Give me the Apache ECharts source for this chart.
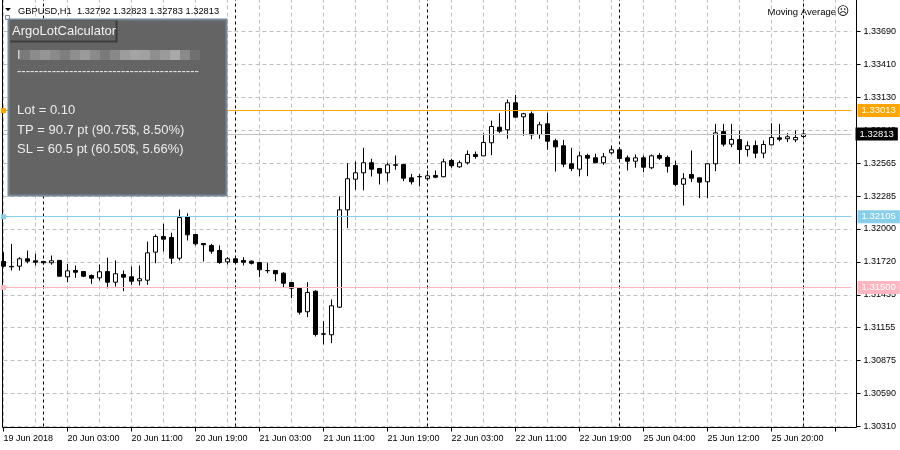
<!DOCTYPE html>
<html><head><meta charset="utf-8">
<script src="https://cdn.jsdelivr.net/npm/echarts@6/dist/echarts.min.js"></script>
<style>html,body{margin:0;padding:0;background:#fff}#c{width:900px;height:450px}</style>
</head><body><div id="c"></div>
<script>
// ---- data (GBPUSD, H1) ----
const opens = [1.31722,1.31680,1.31682,1.31745,1.31728,1.31722,1.31711,1.31731,1.31591,1.31645,
1.31636,1.31602,1.31582,1.31636,1.31545,1.31611,1.31591,1.31557,1.31562,1.31802,
1.31936,1.31927,1.31750,1.32107,1.31953,1.31876,1.31859,1.31816,1.31719,1.31745,
1.31731,1.31725,1.31713,1.31645,1.31645,1.31622,1.31542,1.31491,1.31292,1.31468,
1.31103,1.31095,1.31331,1.32164,1.32426,1.32481,1.32567,1.32518,1.32481,1.32549,
1.32552,1.32438,1.32449,1.32430,1.32458,1.32447,1.32586,1.32532,1.32567,1.32638,
1.32626,1.32738,1.32871,1.32849,1.33080,1.32960,1.32986,1.32809,1.32900,1.32755,
1.32712,1.32558,1.32512,1.32629,1.32609,1.32567,1.32652,1.32678,1.32609,1.32580,
1.32609,1.32524,1.32629,1.32612,1.32543,1.32383,1.32466,1.32438,1.32404,1.32558,
1.32834,1.32726,1.32766,1.32680,1.32714,1.32649,1.32720,1.32780,1.32772,1.32763,
1.32792];
const closes = [1.31682,1.31676,1.31745,1.31725,1.31716,1.31711,1.31728,1.31596,1.31642,1.31630,
1.31596,1.31579,1.31634,1.31545,1.31617,1.31588,1.31553,1.31574,1.31796,1.31936,
1.31913,1.31750,1.32098,1.31950,1.31873,1.31865,1.31810,1.31713,1.31745,1.31713,
1.31716,1.31707,1.31651,1.31643,1.31617,1.31536,1.31493,1.31288,1.31457,1.31097,
1.31100,1.31343,1.32164,1.32430,1.32481,1.32567,1.32512,1.32478,1.32549,1.32546,
1.32435,1.32404,1.32447,1.32455,1.32443,1.32575,1.32541,1.32567,1.32638,1.32620,
1.32740,1.32877,1.32837,1.33080,1.32957,1.32986,1.32806,1.32892,1.32751,1.32703,
1.32555,1.32518,1.32626,1.32606,1.32567,1.32618,1.32678,1.32603,1.32580,1.32609,
1.32529,1.32626,1.32606,1.32537,1.32381,1.32430,1.32435,1.32401,1.32558,1.32823,
1.32726,1.32766,1.32680,1.32712,1.32649,1.32723,1.32783,1.32768,1.32789,1.32783,
1.32813];
const lows = [1.31673,1.31645,1.31645,1.31707,1.31688,1.31696,1.31694,1.31594,1.31545,1.31582,
1.31588,1.31531,1.31559,1.31493,1.31508,1.31468,1.31523,1.31517,1.31523,1.31707,
1.31808,1.31702,1.31731,1.31902,1.31859,1.31722,1.31788,1.31702,1.31696,1.31711,
1.31688,1.31696,1.31588,1.31622,1.31553,1.31497,1.31408,1.31268,1.31245,1.31080,
1.31012,1.31023,1.31326,1.32007,1.32335,1.32330,1.32449,1.32381,1.32407,1.32507,
1.32410,1.32381,1.32364,1.32415,1.32435,1.32443,1.32524,1.32524,1.32552,1.32601,
1.32624,1.32632,1.32820,1.32772,1.32955,1.32798,1.32768,1.32772,1.32678,1.32492,
1.32529,1.32495,1.32452,1.32452,1.32563,1.32549,1.32638,1.32592,1.32501,1.32524,
1.32486,1.32512,1.32592,1.32483,1.32364,1.32201,1.32401,1.32264,1.32264,1.32495,
1.32706,1.32700,1.32558,1.32620,1.32606,1.32606,1.32718,1.32751,1.32743,1.32743,
1.32783];
const highs = [1.31802,1.31873,1.31759,1.31816,1.31788,1.31728,1.31773,1.31736,1.31702,1.31688,
1.31639,1.31611,1.31696,1.31754,1.31731,1.31645,1.31679,1.31688,1.31893,1.31953,
1.32045,1.31968,1.32167,1.32133,1.31959,1.31878,1.31873,1.31859,1.31759,1.31750,
1.31759,1.31731,1.31719,1.31713,1.31647,1.31630,1.31542,1.31499,1.31545,1.31474,
1.31211,1.31397,1.32278,1.32563,1.32578,1.32695,1.32601,1.32521,1.32567,1.32629,
1.32555,1.32472,1.32472,1.32501,1.32501,1.32601,1.32601,1.32586,1.32672,1.32663,
1.32820,1.32928,1.32991,1.33108,1.33148,1.32994,1.33005,1.32917,1.32994,1.32772,
1.32763,1.32695,1.32663,1.32644,1.32644,1.32649,1.32714,1.32700,1.32629,1.32638,
1.32629,1.32638,1.32649,1.32629,1.32584,1.32478,1.32672,1.32440,1.32563,1.32900,
1.32900,1.32900,1.32843,1.32749,1.32757,1.32757,1.32905,1.32900,1.32820,1.32843,
1.32823];
const timeLabels = ['19 Jun 2018','20 Jun 03:00','20 Jun 11:00','20 Jun 19:00','21 Jun 03:00','21 Jun 11:00',
  '21 Jun 19:00','22 Jun 03:00','22 Jun 11:00','22 Jun 19:00','25 Jun 04:00','25 Jun 12:00','25 Jun 20:00'];
const priceLabels = ['1.30310','1.30590','1.30875','1.31155','1.31435','1.31720','1.32000',
  '1.32285','1.32565','1.32845','1.33130','1.33410','1.33690'];
const daySeparators = [5, 29, 53, 77, 100];
const levelPrices = [1.33013, 1.32105, 1.31500];
const bidPrice = 1.32813;
const panelLines = ['Lot = 0.10', 'TP = 90.7 pt (90.75$, 8.50%)', 'SL = 60.5 pt (60.50$, 5.66%)'];

// ---- styles ----
const FONT = 'Liberation Sans';
const levelColors = ['#FFA500', '#87CEEB', '#FFB6C1'];
const yMin = 1.3031, yStep = 0.00281667;
const nCats = 107;
const cats = Array.from({length: nCats}, (_, i) => String(i));
const candles = opens.map((o, i) => [o, closes[i], lows[i], highs[i]]);
const last = opens.length - 1;

const markData = [];
daySeparators.forEach(i => markData.push({xAxis: i, symbol: 'none',
  lineStyle: {color: '#000', type: [3, 3], width: 1}, label: {show: false}}));
levelPrices.forEach((p, k) => markData.push({yAxis: p, symbol: ['emptyRect', 'emptyRect'], symbolSize: 5,
  lineStyle: {color: levelColors[k], type: 'solid', width: 1},
  label: {show: true, position: 'end', distance: 6, formatter: () => p.toFixed(5), color: '#fff',
    backgroundColor: levelColors[k], padding: [2, 4, 1, 4], fontSize: 9.5, fontFamily: FONT}}));
markData.push({yAxis: bidPrice, symbol: 'none', lineStyle: {color: '#C0C0C0', type: 'solid', width: 1},
  label: {show: true, position: 'end', distance: 4, formatter: () => bidPrice.toFixed(5), color: '#fff',
    backgroundColor: '#000', padding: [2, 4, 1, 4], fontSize: 9.5, fontFamily: FONT}});

const greys = ['#7a7a7a','#8c8c8c','#959595','#8a8a8a','#7e7e7e','#8f8f8f','#9a9a9a','#8a8a8a','#7a7a7a',
  '#888888','#9c9c9c','#a4a4a4','#a0a0a0','#8e8e8e','#9a9a9a','#a8a8a8','#8a8a8a','#707070'];
const graphics = [
  {type: 'polygon', shape: {points: [[5, 8], [11, 8], [8, 11]]}, style: {fill: '#000'}, z: 100},
  {type: 'text', x: 18, y: 11, style: {text: 'GBPUSD,H1  ' + [opens[last], highs[last], lows[last], closes[last]].map(v => v.toFixed(5)).join(' '),
    fill: '#000', font: '9.3px ' + FONT, verticalAlign: 'middle'}, z: 100},
  {type: 'text', x: 836, y: 12, style: {text: 'Moving Average', fill: '#000', font: '9.5px ' + FONT, align: 'right', verticalAlign: 'middle'}, z: 100},
  {type: 'text', x: 843, y: 12, style: {text: '\u2639', fill: '#000', font: '12px DejaVu Sans', align: 'center', verticalAlign: 'middle'}, z: 100},
  {type: 'rect', shape: {x: 5.5, y: 15.5, width: 4, height: 4}, style: {fill: '#fff', stroke: '#778899', lineWidth: 1}, z: 100},
  {type: 'rect', shape: {x: 8.5, y: 19.5, width: 218, height: 176}, style: {fill: '#646464', stroke: '#778899', lineWidth: 2}, z: 100},
  {type: 'rect', shape: {x: 10, y: 20.5, width: 107.5, height: 22}, style: {fill: '#3c3c3c'}, z: 101},
  {type: 'rect', shape: {x: 10, y: 20.5, width: 105.5, height: 20}, style: {fill: '#626262'}, z: 102},
  {type: 'text', x: 12, y: 31, style: {text: 'ArgoLotCalculator', fill: '#f2f2f2', font: '13px ' + FONT, verticalAlign: 'middle'}, z: 103},
  {type: 'text', x: 17, y: 55, style: {text: 'I', fill: '#e8e8e8', font: '13px ' + FONT, verticalAlign: 'middle'}, z: 103},
  {type: 'text', x: 17, y: 71, style: {text: '-'.repeat(42), fill: '#e8e8e8', font: '13px ' + FONT, verticalAlign: 'middle'}, z: 103}
];
greys.forEach((c, i) => graphics.push({type: 'rect', shape: {x: 20 + i * 10, y: 50, width: 10, height: 10}, style: {fill: c}, z: 103}));
panelLines.forEach((t, i) => graphics.push({type: 'text', x: 17, y: [110, 130, 149][i],
  style: {text: t, fill: '#ececec', font: '13px ' + FONT, verticalAlign: 'middle'}, z: 103}));

const chart = echarts.init(document.getElementById('c'), null, {renderer: 'canvas'});
chart.setOption({
  animation: false,
  backgroundColor: '#fff',
  grid: [
    {left: 3.5, width: 848, top: -1.417, bottom: 23.5, outerBoundsMode: 'none'},
    {left: 2.5, width: 854, top: -10, bottom: 22.5, show: true, borderColor: '#000', borderWidth: 1,
      backgroundColor: 'rgba(0,0,0,0)', outerBoundsMode: 'none'}
  ],
  xAxis: [
    {type: 'category', gridIndex: 0, data: cats, boundaryGap: false, offset: 1,
      axisLine: {show: false},
      axisTick: {show: true, interval: 7, length: 4, lineStyle: {color: '#000', width: 1}},
      axisLabel: {interval: 7, align: 'left', margin: 7, color: '#000', fontSize: 9, fontFamily: FONT,
        formatter: (v, i) => timeLabels[i / 8] || ''},
      splitLine: {show: true, interval: 3, lineStyle: {color: '#C0C0C0', type: [4, 3], width: 1}}},
    {type: 'value', gridIndex: 1, show: false}
  ],
  yAxis: [
    {type: 'value', gridIndex: 0, position: 'right', offset: 5, min: yMin, max: yMin + 13 * yStep, interval: yStep,
      axisLine: {show: false},
      axisTick: {show: true, length: 4, lineStyle: {color: '#000', width: 1}},
      axisLabel: {margin: 7, color: '#000', fontSize: 9, fontFamily: FONT, showMinLabel: true, showMaxLabel: true,
        formatter: v => priceLabels[Math.round((v - yMin) / yStep)] || ''},
      splitLine: {show: true, lineStyle: {color: '#C0C0C0', type: [4, 3], width: 1}}},
    {type: 'value', gridIndex: 1, show: false}
  ],
  series: [{
    type: 'candlestick', xAxisIndex: 0, yAxisIndex: 0, data: candles, barWidth: 4, clip: false,
    emphasis: {disabled: true},
    itemStyle: {color: '#fff', color0: '#000', borderColor: '#000', borderColor0: '#000', borderColorDoji: '#000', borderWidth: 1},
    markLine: {silent: true, animation: false, symbol: 'none', precision: 5, data: markData}
  }],
  graphic: graphics
});
</script></body></html>
